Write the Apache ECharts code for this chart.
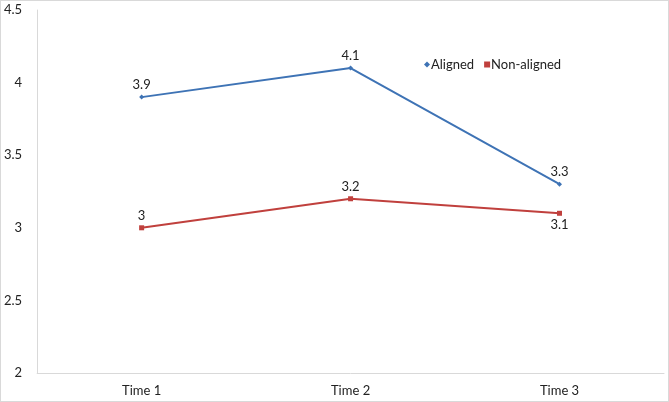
<!DOCTYPE html>
<html><head><meta charset="utf-8">
<script src="https://cdn.jsdelivr.net/npm/echarts@6/dist/echarts.min.js"></script>
<style>html,body{margin:0;padding:0;background:#fff}#c{width:669px;height:402px;box-sizing:border-box;border:1px solid #d9d9d9}</style>
</head><body><div id="c"></div>
<script>
const categories = ["Time 1", "Time 2", "Time 3"];
const aligned = [3.9, 4.1, 3.3];
const nonAligned = [3.0, 3.2, 3.1];
const alignedLabelPos = ["top", "top", "top"];
const nonAlignedLabelPos = ["top", "top", "bottom"];
const yTicks = [2, 2.5, 3, 3.5, 4, 4.5];

const font = "Lato, 'Open Sans', sans-serif";
const chart = echarts.init(document.getElementById('c'));
function mk(vals, pos) {
  return vals.map((v, i) => ({ value: v, label: { position: pos[i] } }));
}
chart.setOption({
  animation: false,
  textStyle: { fontFamily: font },
  grid: { left: 35, right: 4, top: 9, bottom: 28 },
  legend: {
    left: 418, top: 52, itemGap: 10, itemWidth: 6, itemHeight: 6,
    textStyle: { fontSize: 13, color: '#222', fontFamily: font, padding: [0, 0, 0, -4] },
    data: [{ name: 'Aligned', icon: 'diamond' }, { name: 'Non-aligned', icon: 'rect' }]
  },
  xAxis: {
    type: 'category', data: categories, boundaryGap: true,
    axisLine: { lineStyle: { color: '#d9d9d9' } },
    axisTick: { show: false },
    axisLabel: { color: '#222', fontSize: 13, margin: 11, fontFamily: font }
  },
  yAxis: {
    type: 'value', min: yTicks[0], max: yTicks[yTicks.length - 1], interval: 0.5,
    axisLine: { show: true, lineStyle: { color: '#d9d9d9' } },
    axisTick: { show: false },
    splitLine: { show: false },
    axisLabel: { color: '#222', fontSize: 13, margin: 15, fontFamily: font }
  },
  series: [
    {
      name: 'Aligned', type: 'line', data: mk(aligned, alignedLabelPos),
      symbol: 'diamond', symbolSize: 5,
      itemStyle: { color: '#3e73b5' }, lineStyle: { color: '#3e73b5', width: 2 },
      label: { show: true, color: '#222', fontSize: 13, distance: 3, fontFamily: font }
    },
    {
      name: 'Non-aligned', type: 'line', data: mk(nonAligned, nonAlignedLabelPos),
      symbol: 'rect', symbolSize: 5,
      itemStyle: { color: '#c0403d' }, lineStyle: { color: '#c0403d', width: 2 },
      label: { show: true, color: '#222', fontSize: 13, distance: 3, fontFamily: font }
    }
  ]
});
</script></body></html>
